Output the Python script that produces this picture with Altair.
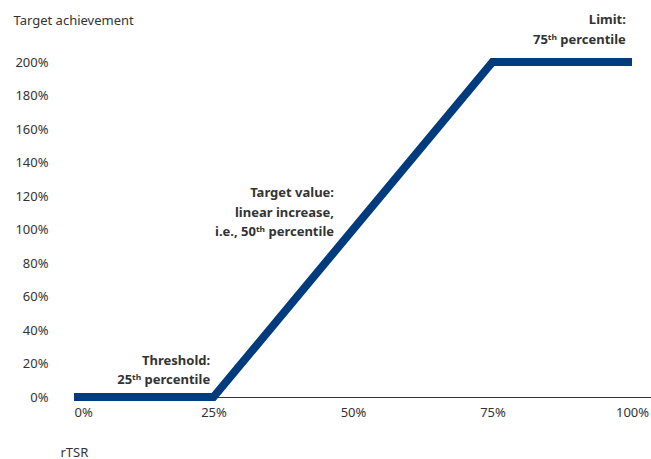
import altair as alt
import pandas as pd

# line data
rtsr = [0, 25, 75, 100]
achievement = [0, 0, 200, 200]

# tick values
x_ticks = [0, 25, 50, 75, 100]
y_ticks = [0, 20, 40, 60, 80, 100, 120, 140, 160, 180, 200]

# annotations (anchor in data units)
ann_text = ["Limit:", "75ᵗʰ percentile",
            "Target value:", "linear increase,", "i.e., 50ᵗʰ percentile",
            "Threshold:", "25ᵗʰ percentile"]
ann_x = [98.9, 98.9, 46.6, 46.6, 46.6, 24.4, 24.4]
ann_y = [225, 213, 121.8, 109.9, 98.5, 21.5, 10.1]

FONT = "Noto Sans"
TXT = "#333333"
BLUE = "#003c7d"

line_df = pd.DataFrame({"x": rtsr, "y": achievement})
ann_df = pd.DataFrame({"t": ann_text, "x": ann_x, "y": ann_y})

xscale = alt.Scale(domain=[0, 103.4], nice=False, zero=False)
yscale = alt.Scale(domain=[0, 200], nice=False)

x_axis = alt.Axis(values=x_ticks, labelExpr="datum.value + '%'", title="rTSR",
                  titleAngle=0, titleAlign="left", titleBaseline="middle",
                  titleX=-14, titleY=55, titleFontWeight="normal",
                  titleFont=FONT, titleFontSize=13, titleColor=TXT,
                  labelFont=FONT, labelFontSize=13, labelColor=TXT,
                  labelPadding=9, ticks=False, grid=False, labelOverlap=False,
                  domain=True, domainColor="#333333", domainWidth=1)
y_axis = alt.Axis(values=y_ticks, labelExpr="datum.value + '%'",
                  title="Target achievement",
                  titleAngle=0, titleAlign="left", titleBaseline="middle",
                  titleX=-61, titleY=-42, titleFontWeight="normal",
                  titleFont=FONT, titleFontSize=13, titleColor=TXT,
                  labelFont=FONT, labelFontSize=13, labelColor=TXT,
                  labelOverlap=False,
                  labelPadding=26, ticks=False, grid=False, domain=False)

line = alt.Chart(line_df).mark_line(color=BLUE, strokeWidth=8, strokeJoin="miter").encode(
    x=alt.X("x:Q", scale=xscale, axis=x_axis),
    y=alt.Y("y:Q", scale=yscale, axis=y_axis),
    order=alt.Order("x:Q"),
)

ann = alt.Chart(ann_df).mark_text(align="right", baseline="middle", font=FONT,
                                   fontSize=13, fontWeight="bold", color=TXT).encode(
    x=alt.X("x:Q", scale=xscale, axis=x_axis),
    y=alt.Y("y:Q", scale=yscale, axis=y_axis),
    text="t:N",
)

chart = (line + ann).properties(
    width=577, height=335,
    background="white",
    autosize=alt.AutoSizeParams(type="none"),
    padding={"left": 74, "top": 62, "right": 0, "bottom": 62},
).configure_view(stroke=None, strokeWidth=0).configure_axis(labelOverlap=False)

chart.save("out.html", embed_options={"renderer": "svg", "actions": False})
